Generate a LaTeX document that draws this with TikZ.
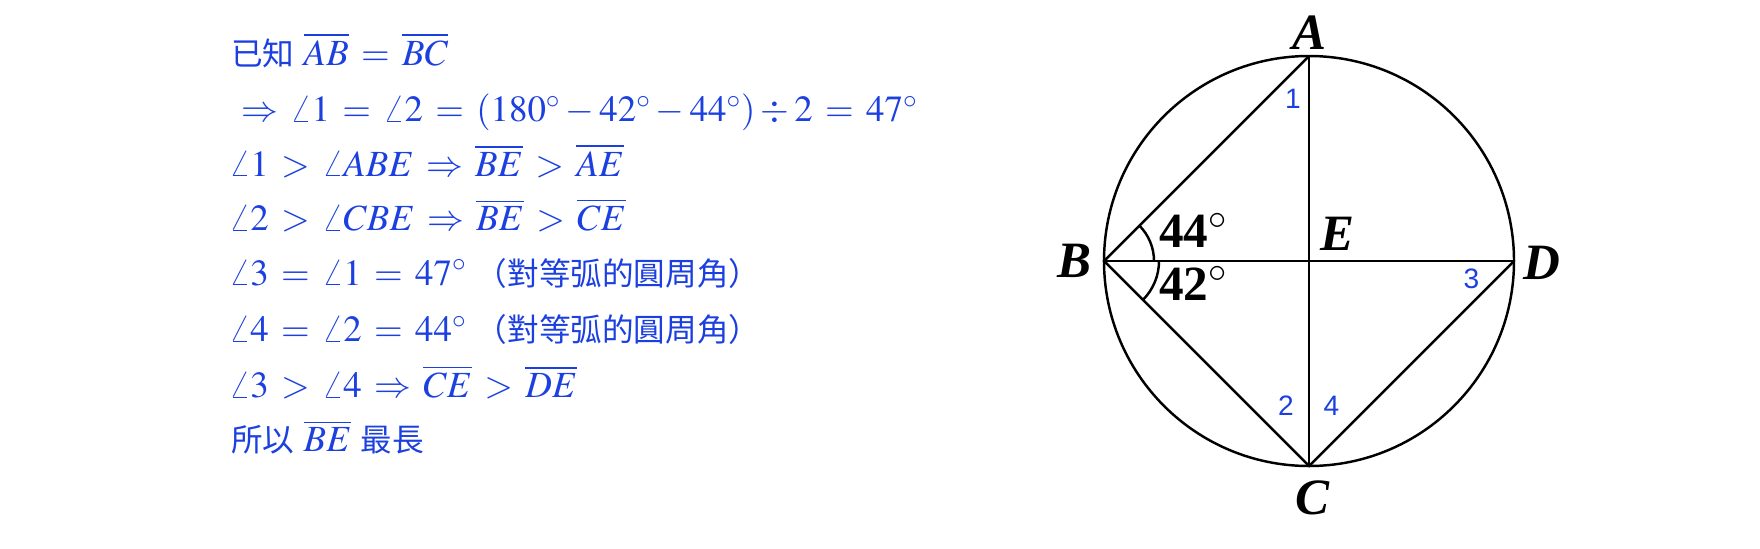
\documentclass[tikz,border=0pt]{standalone}
\usepackage{mathptmx}
\usepackage{fontspec}
\setmainfont{Liberation Serif}
\newfontfamily\cjk{Noto Sans CJK TC}
\newfontfamily\numfont{Liberation Sans}
\usetikzlibrary{calc}
\definecolor{proofblue}{RGB}{28,64,224}
\newcommand{\zhtext}[1]{{\cjk\fontsize{18}{18}\selectfont #1}}
\thickmuskip=6mu plus 5mu
\tikzset{
    pt-label/.style={
        inner sep=0pt, font=\fontsize{29}{29}\selectfont\bfseries\itshape
    },
    deg-label/.style={
        inner sep=0pt, anchor=base west, font=\fontsize{28}{28}\selectfont\bfseries
    },
    num-label/.style={
        inner sep=0pt, text=proofblue, font=\fontsize{16}{16}\selectfont\numfont
    },
    proof-line/.style={
        inner sep=0pt, anchor=base west, text=proofblue, font=\fontsize{21}{21}\selectfont
    },
}

\begin{document}
\begin{tikzpicture}[x=.02cm, y=-.02cm, line width=1.4pt]

        \useasboundingbox (0,0) rectangle (1760,548);

        % PROOF
        \node[proof-line] (L1) at (230,65)    {\zhtext{已知} $\overline{AB}=\overline{BC}$};
        \node[proof-line] (L2) at (240,121.7) {$\Rightarrow \angle 1 = \angle 2 = (180^{\circ} - 42^{\circ} - 44^{\circ}) \div 2 = 47^{\circ}$};
        \node[proof-line] (L3) at (228,176)   {$\angle 1 > \angle ABE \Rightarrow \overline{BE} > \overline{AE}$};
        \node[proof-line] (L4) at (228,230.7) {$\angle 2 > \angle CBE \Rightarrow \overline{BE} > \overline{CE}$};
        \node[proof-line] (L5) at (228,285)   {$\angle 3 = \angle 1 = 47^{\circ}$ \zhtext{（對等弧的圓周角）}};
        \node[proof-line] (L6) at (228,341.7) {$\angle 4 = \angle 2 = 44^{\circ}$ \zhtext{（對等弧的圓周角）}};
        \node[proof-line] (L7) at (228,397.3) {$\angle 3 > \angle 4 \Rightarrow \overline{CE} > \overline{DE}$};
        \node[proof-line] (L8) at (230,451.7) {\zhtext{所以} $\overline{BE}$ \zhtext{最長}};

        % POINTS
        \coordinate[]   (E)  at (1309,261);
        \coordinate[]   (A)  at ($(E) + (0,-205)$);
        \coordinate[]   (C)  at ($(E) + (0,205)$);
        \coordinate[]   (B)  at ($(E) + (-205,0)$);
        \coordinate[]   (D)  at ($(E) + (205,0)$);

        % CIRCLE AND CHORDS
        \draw (E) circle[radius=205];
        \draw (A) -- (B) -- (C) -- (D);
        \draw (A) -- (C);
        \draw (B) -- (D);

        % ANGLE MARKS
        \draw ($(B) + (50,0)$) arc[start angle=0, end angle=-44.7, radius=50];
        \draw ($(B) + (55,0)$) arc[start angle=0, end angle=45, radius=55];

        % POINT LABELS
        \node[pt-label] (LA) at ($(A) + (0,-23)$)  {A};
        \node[pt-label] (LB) at ($(B) + (-30,0)$)  {B};
        \node[pt-label] (LC) at ($(C) + (3,32)$)   {C};
        \node[pt-label] (LD) at ($(D) + (28,2)$)   {D};
        \node[pt-label] (LE) at ($(E) + (28,-27)$) {E};

        % ANGLE VALUES
        \node[deg-label] (ABE) at (1158,247) {44$^{\circ}$};
        \node[deg-label] (CBE) at (1158,300) {42$^{\circ}$};

        % ANGLE NUMBERS
        \node[num-label] (N1) at (1293,98.5)  {1};
        \node[num-label] (N2) at (1286,406)   {2};
        \node[num-label] (N3) at (1471.5,279) {3};
        \node[num-label] (N4) at (1331.5,406) {4};

    \end{tikzpicture}
\end{document}
